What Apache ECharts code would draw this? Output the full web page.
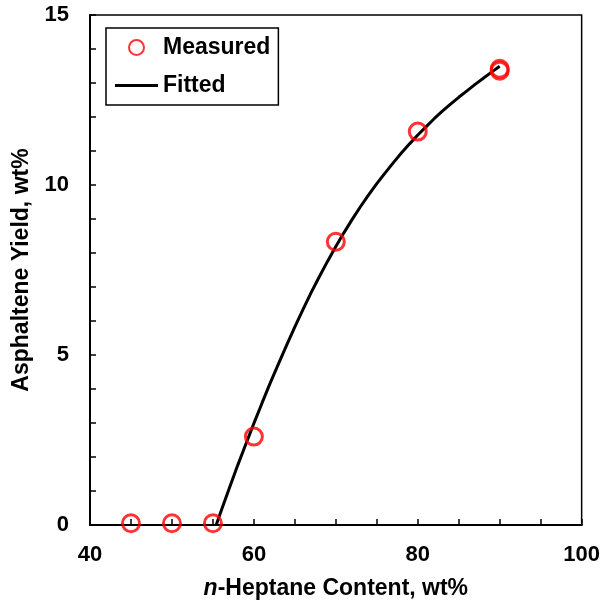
<!DOCTYPE html>
<html>
<head>
<meta charset="utf-8">
<script src="https://cdn.jsdelivr.net/npm/echarts@6/dist/echarts.min.js"></script>
<style>
  html, body { margin: 0; padding: 0; background: #fff; }
  #chart { width: 603px; height: 605px; }
</style>
</head>
<body>
<div id="chart"></div>
<script>
// Measured asphaltene yield vs. n-heptane content
const measuredX = [45, 50, 55, 60, 70, 80, 90, 90];
const measuredY = [0.05, 0.05, 0.05, 2.6, 8.33, 11.57, 13.36, 13.42];

// Fitted curve (onset near 55.4 wt% n-heptane)
const fittedX = [55.4, 56, 57, 58, 59, 60, 61, 62, 63, 64, 65, 66, 67, 68, 69, 70,
                 71, 72, 73, 74, 75, 76, 77, 78, 79, 80, 81, 82, 83, 84, 85, 86, 87, 88, 89, 90];
const fittedY = [0, 0.41, 1.08, 1.74, 2.37, 2.99, 3.59, 4.18, 4.74, 5.29, 5.83, 6.34, 6.84, 7.31, 7.76, 8.19,
                 8.6, 8.99, 9.36, 9.71, 10.04, 10.35, 10.65, 10.94, 11.21, 11.47, 11.71, 11.95, 12.17, 12.38, 12.58,
                 12.77, 12.96, 13.14, 13.32, 13.49];

const xLabelStep = 20;
const yLabelStep = 5;

const font = 'Liberation Sans, Arial, sans-serif';

const chart = echarts.init(document.getElementById('chart'));
chart.setOption({
  animation: false,
  backgroundColor: '#fff',
  grid: {
    left: 90, right: 20, top: 15, bottom: 76,
    show: true, borderColor: '#000', borderWidth: 1.5
  },
  legend: {
    orient: 'vertical',
    left: 106, top: 28,
    padding: [8, 8, 8, 9],
    itemGap: 15,
    itemWidth: 43,
    itemHeight: 15,
    borderColor: '#000',
    borderWidth: 1.5,
    textStyle: { fontFamily: font, fontWeight: 'bold', fontSize: 23, color: '#000' },
    data: [
      { name: 'Measured' },
      { name: 'Fitted', icon: 'path://M0,0H43V3H0Z' }
    ]
  },
  xAxis: {
    type: 'value',
    min: 40, max: 100, interval: 5,
    name: '{i|n}-Heptane Content, wt%',
    nameLocation: 'middle',
    nameGap: 52,
    nameTextStyle: {
      fontFamily: font, fontWeight: 'bold', fontSize: 23, color: '#000',
      rich: { i: { fontFamily: font, fontWeight: 'bold', fontStyle: 'italic', fontSize: 23, color: '#000' } }
    },
    axisLine: { lineStyle: { color: '#000', width: 2 } },
    axisTick: { inside: true, length: 6, lineStyle: { color: '#000', width: 1.5 } },
    splitLine: { show: false },
    axisLabel: {
      margin: 19,
      fontFamily: font, fontWeight: 'bold', fontSize: 22, color: '#000',
      formatter: v => (v % xLabelStep === 0 ? String(v) : '')
    }
  },
  yAxis: {
    type: 'value',
    min: 0, max: 15, interval: 1,
    name: 'Asphaltene Yield, wt%',
    nameLocation: 'middle',
    nameGap: 52,
    nameTextStyle: { fontFamily: font, fontWeight: 'bold', fontSize: 23, color: '#000' },
    axisLine: { show: true, lineStyle: { color: '#000', width: 2 } },
    axisTick: { show: true, inside: true, length: 6, lineStyle: { color: '#000', width: 1.5 } },
    splitLine: { show: false },
    axisLabel: {
      margin: 21,
      fontFamily: font, fontWeight: 'bold', fontSize: 22, color: '#000',
      formatter: v => (v % yLabelStep === 0 ? String(v) : '')
    }
  },
  series: [
    {
      name: 'Fitted',
      type: 'line',
      data: fittedX.map((x, i) => [x, fittedY[i]]),
      symbol: 'none',
      smooth: false,
      lineStyle: { color: '#000', width: 3 },
      itemStyle: { color: '#000' },
      z: 2
    },
    {
      name: 'Measured',
      type: 'scatter',
      data: measuredX.map((x, i) => [x, measuredY[i]]),
      symbol: 'circle',
      symbolSize: 17,
      itemStyle: { color: 'rgba(0,0,0,0)', borderColor: '#ff0000', borderWidth: 3 },
      z: 3
    }
  ]
});
</script>
</body>
</html>
